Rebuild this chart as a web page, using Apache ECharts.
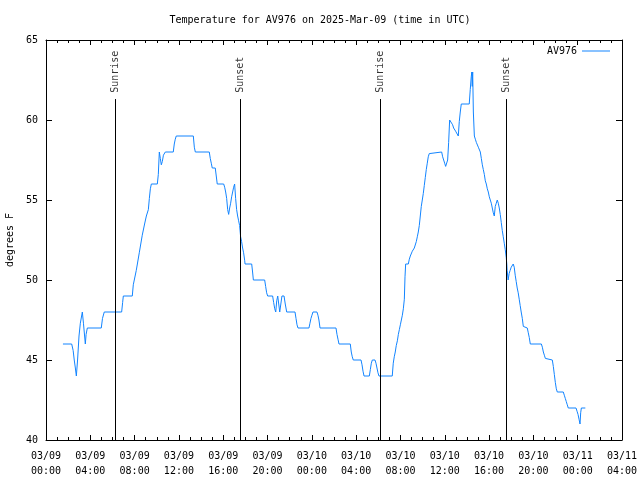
<!DOCTYPE html>
<html><head><meta charset="utf-8">
<script src="https://cdn.jsdelivr.net/npm/echarts@6/dist/echarts.min.js"></script>
<style>html,body{margin:0;padding:0;background:#fff}#c{width:640px;height:480px}</style>
</head><body><div id="c"></div>
<script>
// hours since 2025-03-09 00:00 UTC
const hours = [1.53,2.32,2.45,2.55,2.65,2.74,2.85,2.98,3.1,3.28,3.38,3.55,3.62,3.73,4.99,5.1,5.26,6.83,6.92,6.98,7.79,
7.88,8.15,8.42,8.69,8.9,9.06,9.15,9.24,9.33,9.42,9.51,10.05,10.14,10.23,10.32,10.41,10.5,10.6,10.77,11.49,11.58,11.67,11.76,13.30,13.39,13.48,14.74,14.83,14.92,15.01,15.28,15.37,15.46,16.04,16.13,16.22,16.31,16.40,16.49,16.58,16.67,16.76,16.85,16.94,17.03,17.12,17.21,17.30,17.39,17.48,17.57,17.66,17.75,17.84,17.94,17.97,18.57,18.65,18.72,19.74,19.83,19.92,20.01,20.46,20.55,20.65,20.74,20.83,20.92,21.01,21.10,21.2,21.3,21.49,21.6,21.73,22.48,22.57,22.66,22.75,23.74,23.83,23.92,24.01,24.1,24.46,24.55,24.64,24.74,26.18,26.27,26.36,26.45,27.47,27.56,27.65,27.74,28.44,28.53,28.62,28.71,29.19,29.28,29.37,29.46,29.70,29.79,29.88,29.97,30.06,31.26,
31.35,31.44,31.53,31.62,31.72,31.81,31.9,31.99,32.08,32.17,32.26,32.35,32.41,32.47,32.71,32.8,32.89,32.98,33.07,33.16,33.25,33.34,33.43,33.52,33.61,33.70,33.79,33.88,33.97,34.06,34.15,34.24,34.33,34.42,34.51,34.6,34.69,35.72,35.81,35.9,35.99,36.08,36.17,36.26,36.35,36.44,36.53,36.62,36.71,36.8,36.89,36.98,37.07,37.22,37.31,37.4,37.49,38.21,38.3,38.39,38.44,38.48,38.52,38.58,38.67,38.76,38.85,38.94,39.03,39.12,39.21,39.3,39.39,39.48,39.57,39.66,39.75,39.84,39.93,40.02,40.11,40.2,40.29,40.38,40.47,40.56,40.65,40.74,40.83,40.92,41.01,41.1,41.19,41.28,41.37,41.46,41.55,41.6,41.63,41.72,41.81,41.9,42.0,42.09,42.18,42.27,42.36,42.45,42.54,42.63,42.72,42.81,42.9,43.0,43.09,43.18,43.45,43.54,43.63,43.72,44.72,44.81,44.9,44.99,45.08,45.17,45.71,45.8,45.89,45.98,46.07,46.16,46.70,46.79,46.88,46.97,47.06,47.15,47.85,47.94,48.03,48.12,48.21,48.27,48.33,48.69];
const temps = [46,46,45.6,45,44.5,44,45,46.5,47.3,48,47.3,46,46.6,47,47,47.6,48,48,48.6,49,49,
49.7,50.6,51.7,52.8,53.5,54,54.1,54.4,55.1,55.7,56,56,56.6,58,57.6,57.2,57.4,57.8,58,58,58.5,58.8,59,59,58.3,58,58,57.6,57.3,57,57,56.5,56,56,55.8,55.5,55.1,54.4,54.1,54.5,54.8,55.2,55.5,55.8,56,55.1,54.4,54,53.7,53.4,52.7,52.4,52,51.7,51.2,51,51,50.5,50,50,49.6,49.2,49,49,48.6,48.2,48,48.7,49,48.5,48,48.5,49,49,48.5,48,48,47.6,47.2,47,47,47.3,47.6,47.8,48,48,47.8,47.5,47,47,46.6,46.3,46,46,45.5,45.2,45,45,44.7,44.3,44,44,44.4,44.8,45,45,44.8,44.5,44.2,44,44,
44.8,45.2,45.5,45.9,46.2,46.6,46.9,47.2,47.5,47.8,48.2,48.8,50.2,51,51,51.3,51.5,51.6,51.8,51.9,52,52.1,52.4,52.7,53,53.4,54,54.6,55,55.4,55.9,56.4,56.9,57.3,57.7,57.9,58,58,57.7,57.5,57.3,57.1,57,57.5,58.6,60,60,59.9,59.7,59.5,59.4,59.3,59.2,59,59.9,60.5,61,61,61.9,62.7,63,62.1,63,60.5,59,58.8,58.6,58.5,58.3,58.2,58,57.6,57.2,56.9,56.6,56.2,56,55.7,55.5,55.2,55,54.8,54.5,54.2,54,54.6,54.8,55,54.8,54.5,54.1,53.6,53.1,52.7,52.3,51.9,51.4,51,50.6,50,50.4,50.6,50.8,50.9,51,50.8,50.3,49.9,49.5,49.2,48.8,48.4,48,47.6,47.1,47,47,46.7,46.4,46,46,45.8,45.5,45.3,45.1,45,45,44.6,44.1,43.6,43.2,43,43,42.8,42.6,42.4,42.2,42,42,41.8,41.6,41.3,41,41.7,42,42];
const sunTimes = [6.25, 17.53, 30.17, 41.55];
const sunLabels = ['Sunrise', 'Sunset', 'Sunrise', 'Sunset'];
const sunLineTop = 61.31;
const sunLabelBase = 61.7;
const seriesName = 'AV976';
const titleText = 'Temperature for AV976 on 2025-Mar-09 (time in UTC)';
const yName = 'degrees F';

const FONT = 'DejaVu Sans Mono';
const pad = n => (n < 10 ? '0' : '') + n;
function fmtX(v) {
  const day = 9 + Math.floor(v / 24);
  const hr = Math.round(v % 24);
  return '03/' + pad(day) + '\n' + pad(hr) + ':00';
}
const chart = echarts.init(document.getElementById('c'), null, {renderer: 'canvas'});
const lineData = hours.map((h, i) => [h, temps[i]]);
const txt = {fontFamily: FONT, fontSize: 10, color: '#000'};
const axisBase = {
  axisLine: {show: true, onZero: false, lineStyle: {color: '#000', width: 1}},
  splitLine: {show: false}
};
chart.setOption({
  animation: false,
  title: {text: titleText, left: 'center', top: 10, textStyle: Object.assign({}, txt, {fontWeight: 'normal'})},
  grid: {left: 46, right: 18, top: 40, bottom: 40, containLabel: false, outerBoundsMode: 'none'},
  legend: {
    right: 30, top: 46, padding: 0, align: 'right', itemWidth: 28, itemHeight: 1, icon: 'rect',
    textStyle: txt, data: [seriesName]
  },
  xAxis: [
    Object.assign({}, axisBase, {
      type: 'value', min: 0, max: 52, interval: 4, position: 'bottom',
      axisTick: {show: true, inside: true, length: 5, lineStyle: {color: '#000'}},
      minorTick: {show: true, splitNumber: 4, length: 3, lineStyle: {color: '#000'}},
      axisLabel: Object.assign({}, txt, {formatter: fmtX, margin: 9, lineHeight: 15, showMaxLabel: true, showMinLabel: true})
    }),
    Object.assign({}, axisBase, {
      type: 'value', min: 0, max: 52, interval: 4, position: 'top',
      axisTick: {show: true, inside: true, length: 5, lineStyle: {color: '#000'}},
      minorTick: {show: true, splitNumber: 4, length: 3, lineStyle: {color: '#000'}},
      axisLabel: {show: false}
    })
  ],
  yAxis: [
    Object.assign({}, axisBase, {
      type: 'value', min: 40, max: 65, interval: 5, position: 'left',
      name: yName, nameLocation: 'middle', nameGap: 30, nameRotate: 90,
      nameTextStyle: txt,
      axisTick: {show: true, inside: true, length: 6, lineStyle: {color: '#000'}},
      axisLabel: Object.assign({}, txt, {margin: 8})
    }),
    Object.assign({}, axisBase, {
      type: 'value', min: 40, max: 65, interval: 5, position: 'right',
      axisTick: {show: true, inside: true, length: 6, lineStyle: {color: '#000'}},
      axisLabel: {show: false}
    })
  ],
  series: [
    {
      name: seriesName, type: 'line', data: lineData, showSymbol: false, symbol: 'none',
      lineStyle: {color: '#1284ff', width: 1}, itemStyle: {color: '#1284ff'},
      markLine: {
        silent: true, symbol: 'none', label: {show: false},
        lineStyle: {color: '#000', width: 1, type: 'solid'},
        data: sunTimes.map(t => [{coord: [t, 40]}, {coord: [t, sunLineTop]}])
      },
      z: 3
    },
    {
      name: 'sunlabels', type: 'scatter', symbolSize: 0, silent: true,
      data: sunTimes.map((t, i) => ({value: [t, sunLabelBase], name: sunLabels[i]})),
      label: {
        show: true, position: [0, 0], rotate: 90, align: 'left', verticalAlign: 'middle',
        formatter: p => p.name, fontFamily: FONT, fontSize: 10, color: '#000'
      }
    }
  ]
});
</script></body></html>
